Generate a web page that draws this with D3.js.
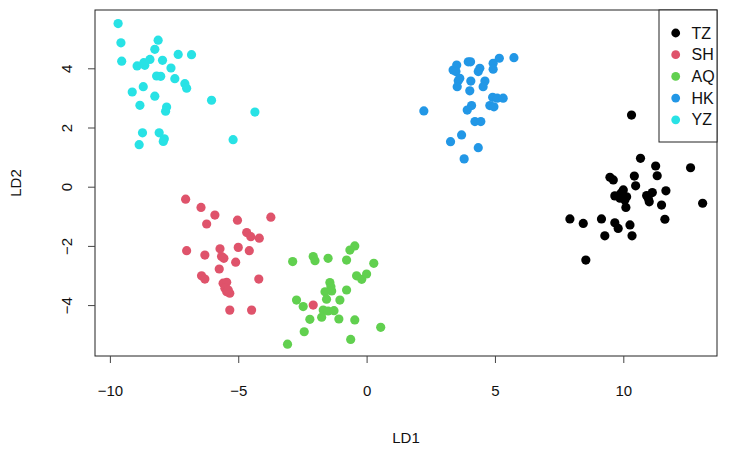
<!DOCTYPE html>
<html>
<head>
<meta charset="utf-8">
<script src="https://cdn.jsdelivr.net/npm/d3@7"></script>
<style>
  body { margin: 0; background: #fff; }
  text { font-family: "Liberation Sans", Arial, sans-serif; }
</style>
</head>
<body>
<svg id="chart" width="738" height="451"></svg>
<script>
// LD scores per group
const tz = [
  [10.32, 2.42], [10.67, 0.96], [11.26, 0.70], [11.32, 0.37], [12.62, 0.64],
  [9.48, 0.32], [9.61, 0.23], [10.43, 0.36], [10.48, 0.03], [11.66, -0.14],
  [10.0, -0.11], [9.91, -0.22], [9.67, -0.31], [9.87, -0.39], [10.13, -0.34],
  [10.06, -0.45], [10.91, -0.30], [11.13, -0.20], [11.01, -0.51], [10.97, -0.39],
  [11.49, -0.62], [13.09, -0.56], [10.10, -0.70], [9.15, -1.09], [7.92, -1.09],
  [8.44, -1.24], [11.62, -1.10], [9.67, -1.22], [9.80, -1.41], [10.26, -1.29],
  [9.28, -1.66], [10.34, -1.66], [8.54, -2.48]
]
const sh = [
  [-7.05, -0.42], [-6.45, -0.70], [-5.91, -0.96], [-6.23, -1.26], [-5.03, -1.13],
  [-3.73, -1.03], [-4.67, -1.55], [-4.51, -1.69], [-4.18, -1.74], [-7.01, -2.16],
  [-6.30, -2.31], [-5.71, -2.10], [-5.00, -2.05], [-4.57, -2.16], [-5.65, -2.36],
  [-5.56, -2.42], [-5.10, -2.55], [-5.74, -2.78], [-6.43, -3.01], [-6.30, -3.12],
  [-4.20, -3.12], [-5.59, -3.26], [-5.45, -3.23], [-5.52, -3.43], [-5.45, -3.55],
  [-5.33, -3.60], [-5.39, -3.49], [-5.33, -4.17], [-4.48, -4.17], [-2.08, -4.00]
]
const aq = [
  [-0.46, -2.00], [-0.65, -2.14], [-2.08, -2.36], [-2.01, -2.50], [-1.50, -2.42],
  [-0.78, -2.48], [-2.88, -2.53], [0.28, -2.59], [-0.39, -3.01], [-0.19, -3.13],
  [0.0, -2.95], [-1.43, -3.24], [-1.39, -3.38], [-1.62, -3.55], [-1.36, -3.52],
  [-0.78, -3.49], [-1.56, -3.80], [-1.04, -3.83], [-2.73, -3.83], [-2.47, -4.05],
  [-1.69, -4.17], [-1.50, -4.20], [-1.27, -4.19], [-1.75, -4.41], [-1.08, -4.47],
  [-0.46, -4.50], [-2.21, -4.48], [-2.43, -4.90], [0.55, -4.75], [-0.62, -5.16],
  [-3.08, -5.32]
]
const hk = [
  [5.74, 4.36], [5.17, 4.34], [4.93, 4.17], [4.93, 3.97], [3.96, 4.22],
  [4.05, 4.22], [3.51, 4.11], [3.37, 3.94], [3.48, 3.89], [4.41, 4.00],
  [4.35, 3.89], [3.63, 3.66], [3.57, 3.58], [4.06, 3.57], [4.61, 3.57],
  [4.54, 3.38], [3.53, 3.38], [4.02, 3.24], [4.91, 3.02], [5.09, 2.99],
  [5.32, 2.99], [4.80, 2.74], [4.96, 2.70], [4.09, 2.74], [3.92, 2.59],
  [2.23, 2.56], [4.22, 2.20], [4.45, 2.20], [3.70, 1.75], [3.27, 1.52],
  [4.35, 1.32], [3.80, 0.94]
]
const yz = [
  [-9.68, 5.51], [-9.57, 4.86], [-9.54, 4.24], [-8.12, 4.95], [-8.25, 4.64],
  [-8.94, 4.08], [-8.68, 4.19], [-8.64, 4.10], [-8.44, 4.30], [-7.95, 4.27],
  [-7.34, 4.47], [-6.82, 4.46], [-7.62, 4.01], [-8.18, 3.74], [-8.02, 3.73],
  [-7.47, 3.65], [-7.08, 3.48], [-7.01, 3.33], [-8.70, 3.38], [-9.13, 3.20],
  [-8.25, 3.06], [-8.83, 2.75], [-7.79, 2.69], [-7.83, 2.55], [-6.04, 2.92],
  [-4.35, 2.52], [-8.73, 1.82], [-8.08, 1.82], [-7.88, 1.62], [-7.92, 1.53],
  [-8.86, 1.42], [-5.20, 1.59]
]

const groupNames = ['TZ', 'SH', 'AQ', 'HK', 'YZ']
const groupColors = ['#000000', '#DF536B', '#61D04F', '#2297E6', '#28E2E5']
const groupData = [tz, sh, aq, hk, yz]
const xTicks = [-10, -5, 0, 5, 10]
const yTicks = [-4, -2, 0, 2, 4]

const plot = { left: 95, right: 717, top: 10, bottom: 356 }
const svg = d3.select('#chart')

// R style limits: data range plus 4 %
const xScale = d3.scaleLinear().domain([-10.58, 13.65]).range([plot.left, plot.right])
const yScale = d3.scaleLinear().domain([-5.72, 5.97]).range([plot.bottom, plot.top])

// points, one group after the other
groupData.forEach((pts, i) => {
  svg.append('g')
    .selectAll('circle')
    .data(pts)
    .enter()
    .append('circle')
    .attr('cx', (d) => xScale(d[0]))
    .attr('cy', (d) => yScale(d[1]))
    .attr('r', 4.6)
    .attr('fill', groupColors[i])
})

// frame
svg.append('rect')
  .attr('x', plot.left).attr('y', plot.top)
  .attr('width', plot.right - plot.left).attr('height', plot.bottom - plot.top)
  .attr('fill', 'none').attr('stroke', '#222').attr('stroke-width', 1)

// x axis
const xAxis = svg.append('g')
  .attr('transform', 'translate(0,' + plot.bottom + ')')
  .call(d3.axisBottom(xScale).tickValues(xTicks).tickSize(7).tickSizeOuter(0))
xAxis.select('.domain').remove()
xAxis.selectAll('line').attr('stroke', '#444')
xAxis.selectAll('text')
  .attr('y', 40).attr('dy', null)
  .attr('font-size', 15).attr('fill', '#111')
  .attr('font-family', '"Liberation Sans", Arial, sans-serif')

// y axis, labels turned like R does
const yAxis = svg.append('g')
  .attr('transform', 'translate(' + plot.left + ',0)')
  .call(d3.axisLeft(yScale).tickValues(yTicks).tickSize(7).tickSizeOuter(0))
yAxis.select('.domain').remove()
yAxis.selectAll('line').attr('stroke', '#444')
yAxis.selectAll('text')
  .attr('x', 0).attr('y', -23).attr('dy', null)
  .attr('transform', 'rotate(-90)')
  .attr('text-anchor', 'middle')
  .attr('font-size', 15).attr('fill', '#111')
  .attr('font-family', '"Liberation Sans", Arial, sans-serif')

// axis titles
svg.append('text')
  .attr('x', (plot.left + plot.right) / 2).attr('y', 443)
  .attr('text-anchor', 'middle').attr('font-size', 15).attr('fill', '#111')
  .text('LD1')
svg.append('text')
  .attr('transform', 'translate(21,' + (plot.top + plot.bottom) / 2 + ') rotate(-90)')
  .attr('text-anchor', 'middle').attr('font-size', 15).attr('fill', '#111')
  .text('LD2')

// legend in the top right corner
const legend = svg.append('g')
legend.append('rect')
  .attr('x', 659).attr('y', plot.top)
  .attr('width', plot.right - 659).attr('height', 132)
  .attr('fill', '#fff').attr('stroke', '#222')
groupNames.forEach((name, i) => {
  const cy = 33 + i * 21.7
  legend.append('circle')
    .attr('cx', 675.7).attr('cy', cy).attr('r', 4.4)
    .attr('fill', groupColors[i])
  legend.append('text')
    .attr('x', 691.5).attr('y', cy + 5.5)
    .attr('font-size', 16).attr('fill', '#111')
    .text(name)
})
</script>
</body>
</html>
